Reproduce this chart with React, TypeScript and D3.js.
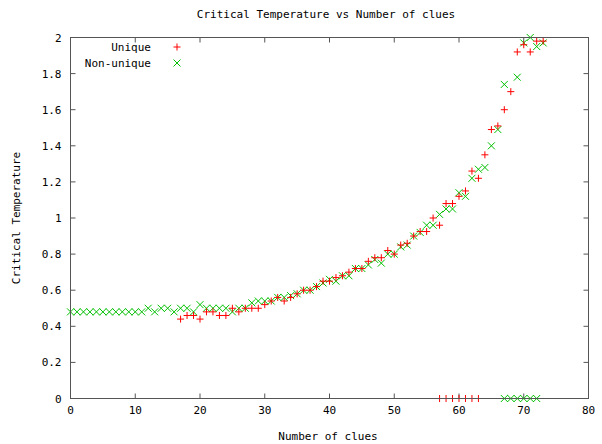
import React from "react";
import * as d3 from "d3";

const W = 602;
const H = 444;

const chartTitle = "Critical Temperature vs Number of clues";
const xLabel = "Number of clues";
const yLabel = "Critical Temperature";
const xTicks = [0, 10, 20, 30, 40, 50, 60, 70, 80];
const yTicks = [0, 0.2, 0.4, 0.6, 0.8, 1, 1.2, 1.4, 1.6, 1.8, 2];

// Unique (red +): [clues, critical temperature]
const uniqueClues = [
  17, 18, 19, 20, 21, 22, 23, 24, 25, 26, 27, 28, 29, 30, 31, 32, 33, 34, 35, 36,
  37, 38, 39, 40, 41, 42, 43, 44, 45, 46, 47, 48, 49, 50, 51, 52, 53, 54, 55, 56,
  57, 58, 59, 60, 61, 62, 63, 64, 65, 66, 67, 68, 69, 70, 71, 72, 73,
  57, 58, 59, 60, 61, 62, 63,
];
const uniqueTemp = [
  0.44, 0.46, 0.46, 0.44, 0.48, 0.48, 0.46, 0.46, 0.5, 0.48, 0.5, 0.5, 0.5, 0.52, 0.54, 0.56, 0.54, 0.56, 0.58, 0.6,
  0.6, 0.62, 0.65, 0.65, 0.67, 0.68, 0.7, 0.72, 0.72, 0.76, 0.78, 0.78, 0.82, 0.8, 0.85, 0.86, 0.9, 0.925, 0.925, 1.0,
  0.96, 1.08, 1.08, 1.12, 1.15, 1.26, 1.22, 1.35, 1.49, 1.51, 1.6, 1.7, 1.92, 1.96, 1.92, 1.98, 1.98,
  0, 0, 0, 0, 0, 0, 0,
];

// Non-unique (green x)
const nonUniqueClues = [
  0, 1, 2, 3, 4, 5, 6, 7, 8, 9, 10, 11, 12, 13, 14, 15, 16, 17, 18, 19,
  20, 21, 22, 23, 24, 25, 26, 27, 28, 29, 30, 31, 32, 33, 34, 35, 36, 37, 38, 39,
  40, 41, 42, 43, 44, 45, 46, 47, 48, 49, 50, 51, 52, 53, 54, 55, 56, 57, 58, 59,
  60, 61, 62, 63, 64, 65, 66, 67, 69, 70, 71, 72, 73,
  67, 68, 69, 70, 71, 72,
];
const nonUniqueTemp = [
  0.48, 0.48, 0.48, 0.48, 0.48, 0.48, 0.48, 0.48, 0.48, 0.48, 0.48, 0.48, 0.5, 0.48, 0.5, 0.5, 0.48, 0.5, 0.5, 0.48,
  0.52, 0.5, 0.5, 0.5, 0.5, 0.48, 0.5, 0.5, 0.53, 0.54, 0.54, 0.54, 0.56, 0.56, 0.57, 0.58, 0.6, 0.6, 0.62, 0.64,
  0.66, 0.65, 0.68, 0.68, 0.72, 0.72, 0.74, 0.77, 0.75, 0.8, 0.8, 0.84, 0.85, 0.9, 0.92, 0.96, 0.96, 1.02, 1.05, 1.05,
  1.14, 1.12, 1.22, 1.27, 1.28, 1.4, 1.49, 1.74, 1.78, 1.97, 2.0, 1.95, 1.97,
  0, 0, 0, 0, 0, 0,
];

const uniqueColor = "#ff0000";
const nonUniqueColor = "#00c000";

export default function App() {
  const left = 70.5;
  const right = 588.5;
  const top = 37.5;
  const bottom = 398.5;
  const x = d3.scaleLinear().domain([0, 80]).range([left, right]);
  const y = d3.scaleLinear().domain([0, 2]).range([bottom, top]);
  const font = "'DejaVu Sans Mono', 'Liberation Mono', monospace";
  const fs = 11;
  const tick = 5;
  const ms = 3.5;
  const border = "#555";

  const plus = (cx: number, cy: number, color: string, key: string) => (
    <path
      key={key}
      d={`M${cx - ms},${cy}H${cx + ms}M${cx},${cy - ms}V${cy + ms}`}
      stroke={color}
      strokeWidth={1}
      fill="none"
    />
  );
  const cross = (cx: number, cy: number, color: string, key: string) => (
    <path
      key={key}
      d={`M${cx - ms},${cy - ms}L${cx + ms},${cy + ms}M${cx - ms},${cy + ms}L${cx + ms},${cy - ms}`}
      stroke={color}
      strokeWidth={1}
      fill="none"
    />
  );

  return (
    <svg
      width={W}
      height={H}
      style={{ position: "absolute", left: 0, top: 0, background: "#fff" }}
      fontFamily={font}
      fontSize={fs}
    >
      <rect x={0} y={0} width={W} height={H} fill="#fff" />
      <text x={326} y={18} textAnchor="middle" fill="#000">
        {chartTitle}
      </text>
      {xTicks.map((t) => (
        <g key={"xt" + t}>
          <line x1={x(t)} x2={x(t)} y1={bottom} y2={bottom - tick} stroke={border} />
          <line x1={x(t)} x2={x(t)} y1={top} y2={top + tick} stroke={border} />
          <text x={x(t)} y={bottom + 15} textAnchor="middle" fill="#000">
            {t}
          </text>
        </g>
      ))}
      {yTicks.map((t) => (
        <g key={"yt" + t}>
          <line x1={left} x2={left + tick} y1={y(t)} y2={y(t)} stroke={border} />
          <line x1={right} x2={right - tick} y1={y(t)} y2={y(t)} stroke={border} />
          <text x={left - 9} y={y(t) + 4} textAnchor="end" fill="#000">
            {t === 0 ? "0" : d3.format("~g")(t)}
          </text>
        </g>
      ))}
      <text x={328} y={440} textAnchor="middle" fill="#000">
        {xLabel}
      </text>
      <text
        transform={`translate(20,${(top + bottom) / 2}) rotate(-90)`}
        textAnchor="middle"
        fill="#000"
      >
        {yLabel}
      </text>
      {nonUniqueClues.map((c, i) =>
        cross(x(c), y(nonUniqueTemp[i]), nonUniqueColor, "n" + i)
      )}
      {uniqueClues.map((c, i) => plus(x(c), y(uniqueTemp[i]), uniqueColor, "u" + i))}
      <rect
        x={left}
        y={top}
        width={right - left}
        height={bottom - top}
        fill="none"
        stroke={border}
      />
      <text x={151} y={51} textAnchor="end" fill="#000">
        Unique
      </text>
      {plus(177, 47, uniqueColor, "lu")}
      <text x={151} y={67} textAnchor="end" fill="#000">
        Non-unique
      </text>
      {cross(177, 63, nonUniqueColor, "ln")}
    </svg>
  );
}
